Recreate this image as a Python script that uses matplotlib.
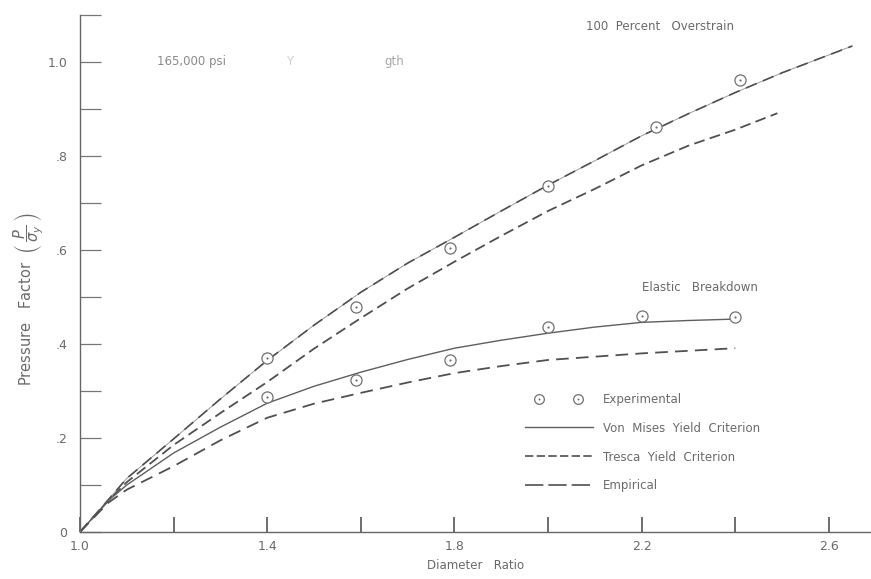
import matplotlib
matplotlib.use('Agg')
import matplotlib.pyplot as plt
from matplotlib.lines import Line2D
from matplotlib.legend_handler import HandlerLine2D, HandlerTuple

# values
# 100 percent overstrain
ovs_vm_x = [1.0, 1.06, 1.1, 1.2, 1.3, 1.4, 1.5, 1.6, 1.7, 1.8, 1.9, 2.0, 2.1, 2.2, 2.3, 2.4, 2.5, 2.65]
ovs_vm_y = [0.0, 0.068, 0.114, 0.198, 0.283, 0.365, 0.44, 0.51, 0.572, 0.627, 0.683, 0.738, 0.79, 0.843, 0.89, 0.935, 0.977, 1.034]

ovs_tr_x = [1.0, 1.06, 1.1, 1.2, 1.3, 1.4, 1.5, 1.6, 1.7, 1.8, 1.9, 2.0, 2.1, 2.2, 2.3, 2.4, 2.49]
ovs_tr_y = [0.0, 0.066, 0.106, 0.185, 0.253, 0.319, 0.39, 0.455, 0.518, 0.575, 0.63, 0.683, 0.73, 0.78, 0.822, 0.856, 0.891]

# elastic breakdown
eb_vm_x = [1.0, 1.06, 1.1, 1.2, 1.3, 1.4, 1.5, 1.6, 1.7, 1.8, 1.9, 2.0, 2.1, 2.2, 2.3, 2.4]
eb_vm_y = [0.0, 0.066, 0.1, 0.168, 0.223, 0.274, 0.31, 0.34, 0.367, 0.391, 0.408, 0.423, 0.436, 0.446, 0.45, 0.453]

eb_tr_x = [1.0, 1.06, 1.1, 1.2, 1.3, 1.4, 1.5, 1.6, 1.7, 1.8, 1.9, 2.0, 2.2, 2.4]
eb_tr_y = [0.0, 0.062, 0.09, 0.14, 0.195, 0.243, 0.273, 0.296, 0.318, 0.338, 0.353, 0.366, 0.38, 0.391]

# experimental points
exp_ovs_x = [1.40, 1.59, 1.79, 2.00, 2.23, 2.41]
exp_ovs_y = [0.370, 0.479, 0.604, 0.736, 0.862, 0.962]
exp_eb_x = [1.40, 1.59, 1.79, 2.00, 2.20, 2.40]
exp_eb_y = [0.287, 0.323, 0.366, 0.436, 0.460, 0.457]

x_ticks = [1.0, 1.2, 1.4, 1.6, 1.8, 2.0, 2.2, 2.4, 2.6]
x_labels = ['1.0', '', '1.4', '', '1.8', '', '2.2', '', '2.6']
y_ticks = [0, 0.1, 0.2, 0.3, 0.4, 0.5, 0.6, 0.7, 0.8, 0.9, 1.0, 1.1]
y_labels = ['0', '', '.2', '', '.4', '', '.6', '', '.8', '', '1.0', '']

line_col = '#505050'
faint_col = '#9a9a9a'
text_col = '#6a6a6a'
mark_col = '#707070'

plt.rcParams['font.family'] = ['DejaVu Sans']

fig = plt.figure(figsize=(8.71, 5.79), dpi=100)
ax = fig.add_axes([0.0918, 0.0812, 0.9082, 0.8929])

# overstrain curves
ax.plot(ovs_vm_x, ovs_vm_y, color=faint_col, lw=0.7, ls='-')
ax.plot(ovs_vm_x, ovs_vm_y, color=line_col, lw=1.2, ls=(0, (7, 4)))
ax.plot(ovs_tr_x, ovs_tr_y, color=line_col, lw=1.3, ls=(0, (6, 3)))
# elastic breakdown curves
ax.plot(eb_vm_x, eb_vm_y, color='#5e5e5e', lw=1.0, ls='-')
ax.plot(eb_tr_x, eb_tr_y, color=line_col, lw=1.3, ls=(0, (7, 4)))

# experimental
for ex, ey in [(exp_ovs_x, exp_ovs_y), (exp_eb_x, exp_eb_y)]:
    ax.plot(ex, ey, ls='none', marker='o', ms=8, mfc='white', mec=mark_col, mew=0.9)
    ax.plot(ex, ey, ls='none', marker='o', ms=1.6, mfc=mark_col, mec=mark_col, mew=0)

ax.set_xlim(1.0, 2.69)
ax.set_ylim(0, 1.1)

for s in ['top', 'right']:
    ax.spines[s].set_visible(False)
for s in ['left', 'bottom']:
    ax.spines[s].set_color('#666666')
    ax.spines[s].set_linewidth(1.0)

ax.set_xticks(x_ticks)
ax.set_xticklabels(x_labels)
ax.set_yticks(y_ticks)
ax.set_yticklabels(y_labels)
ax.tick_params(axis='x', direction='in', length=11, width=1.2, color='#555555',
               labelsize=9, labelcolor=text_col, pad=6)
ax.tick_params(axis='y', direction='in', length=15, width=0.9, color='#777777',
               labelsize=9, labelcolor=text_col, pad=9)

ax.set_xlabel('Diameter   Ratio', fontsize=8.5, color=text_col, labelpad=4)
ax.set_ylabel(r'Pressure   Factor  $\left(\,\dfrac{P}{\sigma_y}\,\right)$', fontsize=10.5,
              color=text_col)
ax.yaxis.set_label_coords(-0.043, 0.45)

ax.text(2.24, 1.075, '100  Percent   Overstrain', fontsize=8.5, color=text_col,
        ha='center', va='center')
ax.text(2.2, 0.52, 'Elastic   Breakdown', fontsize=8.5, color=text_col,
        ha='left', va='center')
ax.text(1.165, 1.0, '165,000 psi', fontsize=8.5, color='#8a8a8a', ha='left', va='center')
ax.text(1.44, 1.0, 'Y', fontsize=8.5, color='#d0d0d0', ha='left', va='center')
ax.text(1.65, 1.0, 'gth', fontsize=8.5, color='#a8a8a8', ha='left', va='center')

# legend
h_circ = Line2D([], [], ls='none', marker='o', ms=7, mfc='white', mec=mark_col, mew=0.9)
h_dot = Line2D([], [], ls='none', marker='o', ms=1.4, mfc=mark_col, mec=mark_col, mew=0)
h_vm = Line2D([], [], color='#5e5e5e', lw=1.0, ls='-')
h_tr = Line2D([], [], color=line_col, lw=1.2, ls=(0, (5, 2)))
h_emp = Line2D([], [], color=line_col, lw=1.2, ls=(0, (11, 3)))
ax.legend([(h_circ, h_dot), h_vm, h_tr, h_emp],
          ['Experimental', 'Von  Mises  Yield  Criterion', 'Tresca  Yield  Criterion', 'Empirical'],
          handler_map={tuple: HandlerTuple(ndivide=1),
                       h_circ: HandlerLine2D(marker_pad=1.5),
                       h_dot: HandlerLine2D(marker_pad=1.5)},
          numpoints=2, loc='upper left', bbox_to_anchor=(0.545, 0.29),
          frameon=False, fontsize=8.5, labelcolor=text_col,
          handlelength=6.3, handletextpad=0.6, labelspacing=1.35)

fig.savefig('out.png', dpi=100, facecolor='white')
